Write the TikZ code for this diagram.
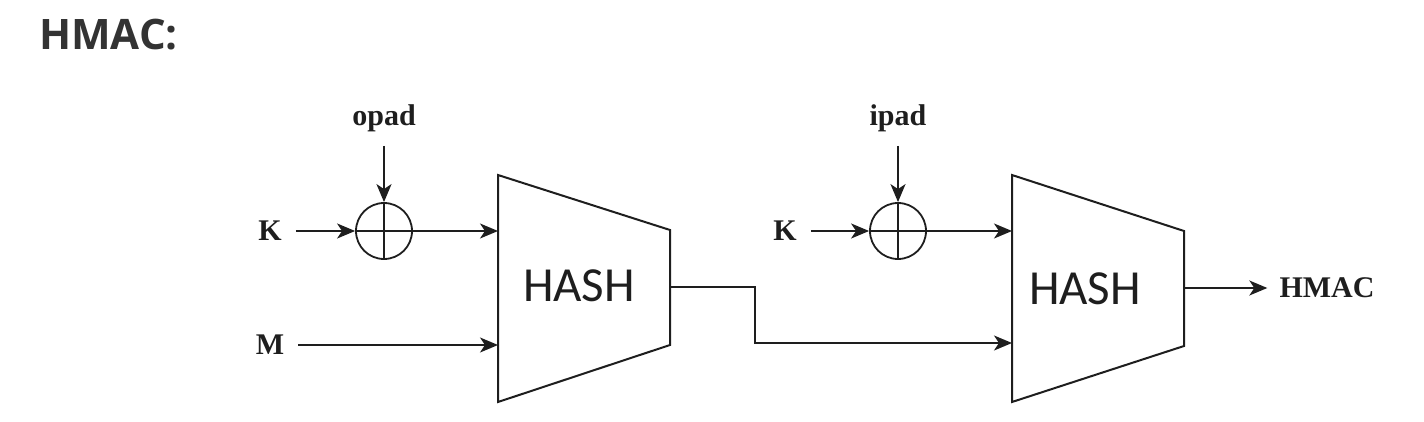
\documentclass[tikz,border=0pt]{standalone}
\usepackage{fontspec}
\setmainfont{Liberation Serif}
\newfontfamily\hashfont{Carlito}
\newfontfamily\titlefont{Open Sans}
\usetikzlibrary{arrows.meta}
\definecolor{ink}{HTML}{1E1E1E}
\definecolor{titlegray}{HTML}{333333}
\tikzset{
  sig/.style={draw=ink, line width=2pt},
  lbl/.style={text=ink, font=\fontsize{30}{32}\selectfont\bfseries, inner sep=0pt},
  xorgate/.style={circle, draw=ink, line width=1.8pt, minimum size=56pt, inner sep=0pt},
  hashbox/.style={draw=ink, line width=2pt, line join=miter},
  hashtxt/.style={text=ink, font=\hashfont\fontsize{49}{52}\selectfont, inner sep=0pt}
}
\begin{document}
\begin{tikzpicture}[x=1pt, y=-1pt, >={Stealth[length=18pt,width=15pt,inset=5pt]}]
  \useasboundingbox (0,0) rectangle (1424,422);
  \node[anchor=base west, inner sep=0pt, text=titlegray, font=\titlefont\bfseries\fontsize{42}{46}\selectfont] (title) at (39,50) {HMAC:};

  % first stage
  \node[lbl] (k1) at (270,231) {K};
  \node[lbl] (m) at (270,345) {M};
  \node[lbl] (opad) at (384,118) {opad};
  \node[xorgate] (x1) at (384,231) {};
  \draw[sig] (x1.north) -- (x1.south) (x1.west) -- (x1.east);
  \draw[hashbox] (498,175) -- (670,230) -- (670,345) -- (498,402) -- cycle;
  \coordinate (h1a) at (498,231);
  \coordinate (h1b) at (498,345);
  \coordinate (h1out) at (670,287);
  \node[hashtxt] (hash1) at (579,286) {HASH};
  \draw[sig,->] ([xshift=14pt]k1.east) -- (x1.west);
  \draw[sig,->] ([yshift=-14pt]opad.south) -- (x1.north);
  \draw[sig,->] (x1.east) -- (h1a);
  \draw[sig,->] ([xshift=14pt]m.east) -- (h1b);

  % second stage
  \node[lbl] (k2) at (785,231) {K};
  \node[lbl] (ipad) at (898,118) {ipad};
  \node[xorgate] (x2) at (898,231) {};
  \draw[sig] (x2.north) -- (x2.south) (x2.west) -- (x2.east);
  \draw[hashbox] (1012,175) -- (1184,231) -- (1184,346) -- (1012,402) -- cycle;
  \coordinate (h2a) at (1012,231);
  \coordinate (h2b) at (1012,343);
  \coordinate (h2out) at (1184,288);
  \node[hashtxt] (hash2) at (1085,289) {HASH};
  \node[lbl] (hmac) at (1327,288) {HMAC};
  \draw[sig,->] ([xshift=14pt]k2.east) -- (x2.west);
  \draw[sig,->] ([yshift=-14pt]ipad.south) -- (x2.north);
  \draw[sig,->] (x2.east) -- (h2a);
  \draw[sig,->] (h1out) -- (755,287) |- (h2b);
  \draw[sig,->] (h2out) -- ([xshift=-12pt]hmac.west);
\end{tikzpicture}
\end{document}
